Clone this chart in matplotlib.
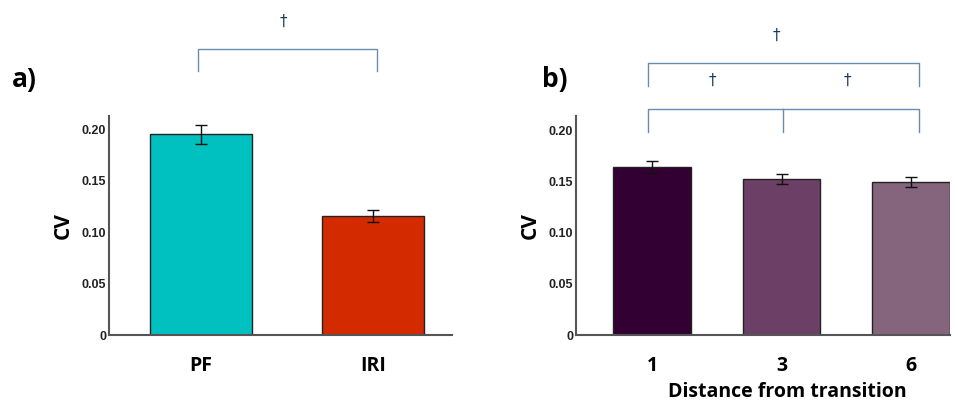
import matplotlib
matplotlib.use("Agg")
import matplotlib.pyplot as plt

# ---- data ----
a_categories = ["PF", "IRI"]
a_values = [0.1955, 0.116]
a_errors = [0.009, 0.006]
a_colors = ["#00C0C0", "#D42A00"]

b_categories = ["1", "3", "6"]
b_values = [0.1645, 0.153, 0.150]
b_errors = [0.006, 0.005, 0.005]
b_colors = ["#330033", "#6B3F66", "#85657E"]

y_ticks = [0, 0.05, 0.10, 0.15, 0.20]
y_ticklabels = ["0", "0.05", "0.10", "0.15", "0.20"]

W, H = 958, 403
fig = plt.figure(figsize=(W / 100, H / 100), dpi=100)
fig.patch.set_facecolor("white")

TICKFONT = dict(family="Liberation Sans", weight="bold", size=9, color="#222222")
LABFONT = dict(family="Open Sans", weight="bold", size=14, color="black")
BRACKET = "#6A8CAF"
DAGGER = "#1A3A5C"


def make_ax(left_px, right_px, top_px, bottom_px):
    return fig.add_axes([left_px / W, (H - bottom_px) / H,
                         (right_px - left_px) / W, (bottom_px - top_px) / H])


def style(ax, ytop):
    ax.set_ylim(0, ytop)
    ax.set_yticks(y_ticks)
    ax.set_yticklabels(y_ticklabels, fontdict=TICKFONT)
    for s in ["top", "right"]:
        ax.spines[s].set_visible(False)
    for s in ["left", "bottom"]:
        ax.spines[s].set_color("#555555")
        ax.spines[s].set_linewidth(1.5)
    ax.tick_params(axis="both", length=0, pad=2)
    ax.tick_params(axis="x", pad=15)
    ax.set_ylabel("CV", fontdict=dict(family="Open Sans", weight="bold", size=15), labelpad=6)


def bracket(ax, x0, x1, y, yend, mids=()):
    kw = dict(color=BRACKET, lw=1.0, clip_on=False)
    ax.plot([x0, x0, x1, x1], [yend, y, y, yend], **kw)
    for m in mids:
        ax.plot([m, m], [y, yend], **kw)


def dagger(ax, x, y):
    ax.text(x, y, "\u2020", ha="center", va="center", color=DAGGER,
            fontsize=11, family="DejaVu Sans", clip_on=False)


ERR_KW = dict(ecolor="#111111", elinewidth=1.0, capthick=1.0)

# ---- panel a ----
axa = make_ax(109, 452, 116, 335)
xa = list(range(len(a_categories)))
axa.bar(xa, a_values, width=0.595, color=a_colors, edgecolor="#222222", linewidth=1.0,
        yerr=a_errors, capsize=4.5, error_kw=ERR_KW)
axa.set_xlim(-0.535, 1.459)
style(axa, 0.2133)
axa.set_xticks(xa)
axa.set_xticklabels(a_categories, fontdict=LABFONT)
bracket(axa, -0.015, 1.025, 0.279, 0.257)
dagger(axa, 0.48, 0.306)
fig.text(12 / W, 1 - 79 / H, "a)", fontsize=19, weight="bold", family="Open Sans",
         va="center", ha="left")

# ---- panel b ----
axb = make_ax(576, 950, 116, 335)
xb = list(range(len(b_categories)))
axb.bar(xb, b_values, width=0.60, color=b_colors, edgecolor="#222222", linewidth=1.0,
        yerr=b_errors, capsize=4.5, error_kw=ERR_KW)
axb.set_xlim(-0.588, 2.30)
style(axb, 0.2147)
axb.set_xticks(xb)
axb.set_xticklabels(b_categories, fontdict=LABFONT)
axb.set_xlabel("Distance from transition", fontdict=LABFONT)
axb.xaxis.set_label_coords(0.564, -0.258)
axb.xaxis.label.set_verticalalignment("center")
bracket(axb, -0.03, 2.06, 0.2664, 0.244)
bracket(axb, -0.03, 2.06, 0.2213, 0.1993, mids=(1.01,))
dagger(axb, 0.96, 0.294)
dagger(axb, 0.466, 0.2497)
dagger(axb, 1.51, 0.2497)
fig.text(542 / W, 1 - 79 / H, "b)", fontsize=19, weight="bold", family="Open Sans",
         va="center", ha="left")

fig.savefig("out.png", dpi=100, facecolor="white")
